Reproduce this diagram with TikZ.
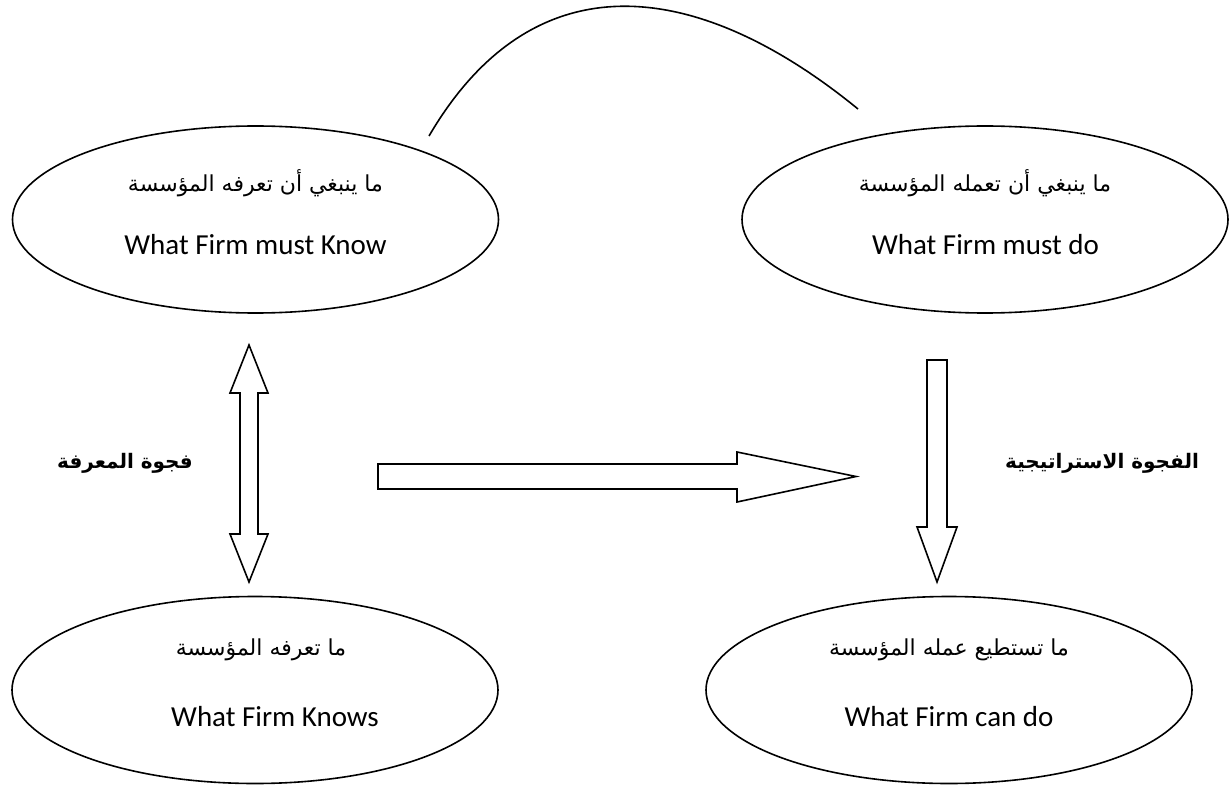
\documentclass[tikz,border=0pt]{standalone}
\usepackage{fontspec}
\setmainfont{Carlito}
\newfontfamily\arabicfont[Script=Arabic]{DejaVu Sans}
\TeXXeTstate=1
\usetikzlibrary{shapes.geometric}

\begin{document}
\begin{tikzpicture}[x=0.5pt, y=-0.5pt, font=\fontsize{14.5}{17}\selectfont,
  goal/.style={ellipse, draw, line width=0.8pt, minimum width=243pt, minimum height=93.5pt, inner sep=0pt},
  entxt/.style={inner sep=0pt},
  artxt/.style={inner sep=0pt, font=\arabicfont\fontsize{11}{13}\selectfont},
  gaplbl/.style={inner sep=0pt, font=\arabicfont\bfseries\fontsize{10}{12}\selectfont},
  blockarrow/.style={draw, line width=0.8pt, line join=miter},
  link/.style={draw, line width=0.8pt}
]
  \useasboundingbox (0,0) rectangle (1230,786);
  % the four ellipses
  \node[goal] (MustKnow) at (255.5,219.5) {};
  \node[goal] (MustDo)   at (985,219.5)   {};
  \node[goal] (Knows)    at (255,690)     {};
  \node[goal] (CanDo)    at (949,690)     {};
  \node[artxt] (MustKnowAr) at (255.5,183) {\beginR ما ينبغي أن تعرفه المؤسسة\endR};
  \node[entxt] (MustKnowEn) at (255.5,245) {What Firm must Know};
  \node[artxt] (MustDoAr)   at (985,183)   {\beginR ما ينبغي أن تعمله المؤسسة\endR};
  \node[entxt] (MustDoEn)   at (985.5,245) {What Firm must do};
  \node[artxt] (KnowsAr)    at (261,650)   {\beginR ما تعرفه المؤسسة\endR};
  \node[entxt] (KnowsEn)    at (275,717)   {What Firm Knows};
  \node[artxt] (CanDoAr)    at (949,650)   {\beginR ما تستطيع عمله المؤسسة\endR};
  \node[entxt] (CanDoEn)    at (949,717)   {What Firm can do};
  % gap labels
  \node[gaplbl] (KnowGap)  at (125,463)  {\beginR فجوة المعرفة\endR};
  \node[gaplbl] (StratGap) at (1102,463) {\beginR الفجوة الاستراتيجية\endR};
  % link over the top
  \coordinate (LinkL) at (429,136);
  \coordinate (LinkR) at (858,109);
  \draw[link] (LinkL) .. controls (535,-45) and (700,-20) .. (LinkR);
  % block arrows
  \draw[blockarrow] (249,345) -- (268,393) -- (258,393) -- (258,534) -- (268,534)
    -- (249,582) -- (230,534) -- (240,534) -- (240,393) -- (230,393) -- cycle;
  \draw[blockarrow] (378,464) -- (737,464) -- (737,452) -- (856,476.5) -- (737,502)
    -- (737,489) -- (378,489) -- cycle;
  \draw[blockarrow] (927,360) -- (947,360) -- (947,527) -- (957,527) -- (937,582)
    -- (917,527) -- (927,527) -- cycle;
\end{tikzpicture}
\end{document}
